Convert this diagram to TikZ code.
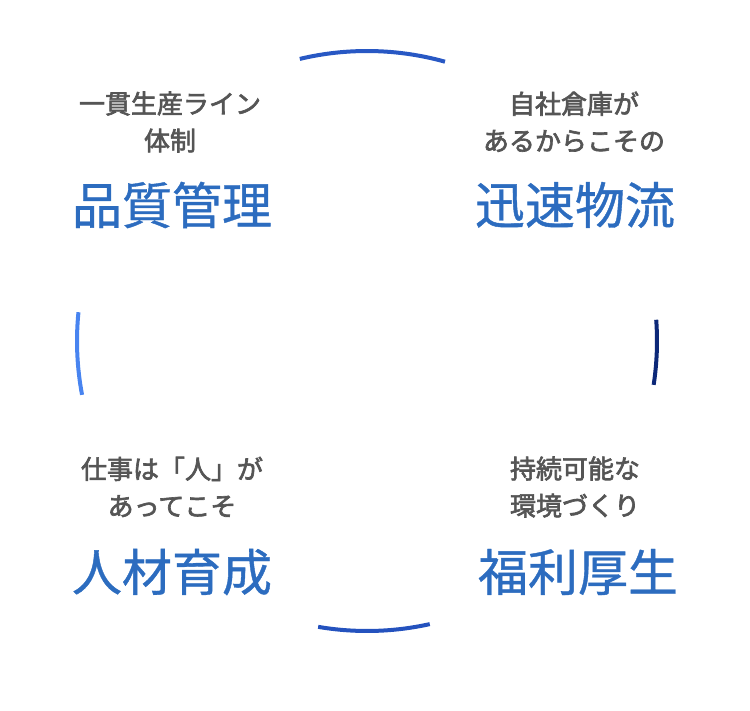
\documentclass[tikz,border=0pt]{standalone}
\usepackage{fontspec}
\newfontfamily\cjk{Noto Sans CJK JP}[FakeBold=0.8]
\newfontfamily\cjkb{Noto Sans CJK JP}[FakeBold=2.5]
\definecolor{gtxt}{HTML}{555555}
\definecolor{btxt}{HTML}{2C6CBF}
\begin{document}
\begin{tikzpicture}[x=1pt,y=-1pt,
 sub/.style={font=\cjkb\fontsize{26}{37}\selectfont,text=gtxt,align=center,inner sep=0},
 ttl/.style={font=\cjk\fontsize{50}{52}\selectfont,text=btxt,inner sep=0},
 arcl/.style={line width=4pt}]
\useasboundingbox (0,0) rectangle (750,711);
\coordinate (c) at (367,341);
\draw[arcl,color={rgb,255:red,40;green,88;blue,196}] ([shift={(256.6:290)}]c) arc[start angle=256.6,end angle=285.6,radius=290];
\draw[arcl,color={rgb,255:red,72;green,132;blue,240}] ([shift={(169.3:290)}]c) arc[start angle=169.3,end angle=185.7,radius=290];
\draw[arcl,color={rgb,255:red,12;green,40;blue,120}] ([shift={(-4.2:290)}]c) arc[start angle=-4.2,end angle=8.7,radius=290];
\draw[arcl,color={rgb,255:red,36;green,82;blue,190}] ([shift={(77.5:290)}]c) arc[start angle=77.5,end angle=99.7,radius=290];
\node[sub] (a1) at (170,122) {一貫生産ライン\\体制};
\node[sub] (b1) at (574,122) {自社倉庫が\\あるからこその};
\node[ttl] (a2) at (172,205) {品質管理};
\node[ttl] (b2) at (575,205) {迅速物流};
\node[sub] (c1) at (172,487) {仕事は「人」が\\あってこそ};
\node[ttl] (c2) at (172,572) {人材育成};
\node[sub] (d1) at (575,487) {持続可能な\\環境づくり};
\node[ttl] (d2) at (578,572) {福利厚生};
\end{tikzpicture}
\end{document}
